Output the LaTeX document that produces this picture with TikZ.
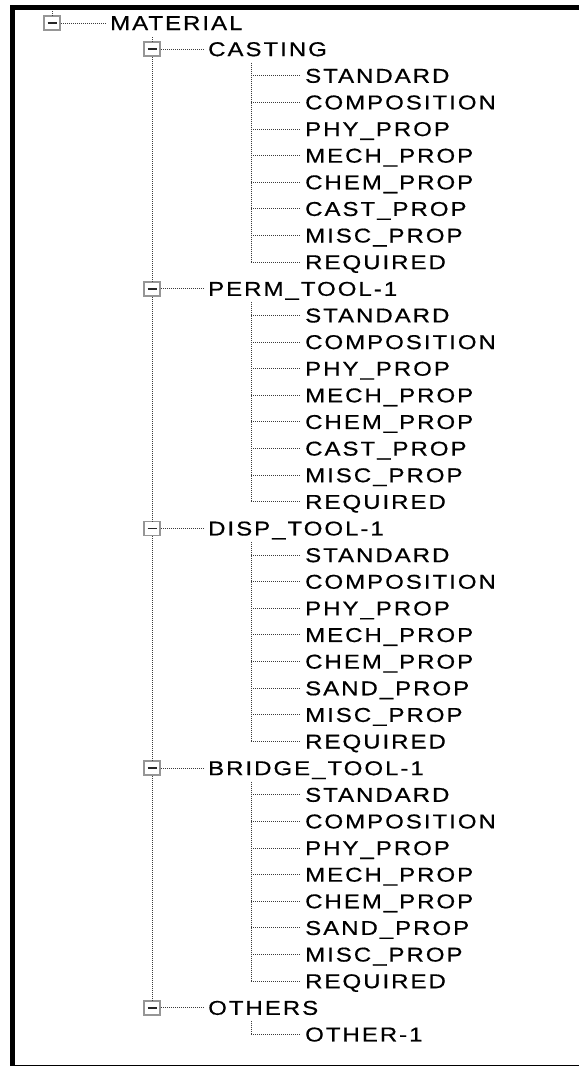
\documentclass[tikz,border=0pt]{standalone}
\usepackage{fontspec}
\newfontfamily\treefont[FakeStretch=1.2,LetterSpace=10,FakeBold=0.6]{Liberation Sans}
\definecolor{dotc}{RGB}{60,60,60}
\definecolor{boxc}{RGB}{150,150,150}
\def\listA{STANDARD,COMPOSITION,PHY\_PROP,MECH\_PROP,CHEM\_PROP,CAST\_PROP,MISC\_PROP,REQUIRED}
\def\listB{STANDARD,COMPOSITION,PHY\_PROP,MECH\_PROP,CHEM\_PROP,SAND\_PROP,MISC\_PROP,REQUIRED}
\def\listC{OTHER-1}
\newcommand\treegroup[5]{%
  \pgfmathsetmacro\gy{22.5+26.63*#2}
  \node[expbox] (g#1) at (152,\gy) {};
  \draw[minus] ([xshift=-4.5pt]g#1.center) -- ([xshift=4.5pt]g#1.center);
  \node[lbl] (t#1) at (208,\gy+7) {#3};
  \draw[dotln] (g#1.east) -- ([xshift=-4pt]g#1.east -| t#1.west);
  \coordinate (v#1) at (251,\gy+13.5);
  \foreach \c [count=\k] in #4 {
    \pgfmathsetmacro\cy{22.5+26.63*(#2+\k)}
    \coordinate (h#1-\k) at (251,\cy);
    \node[lbl] (c#1-\k) at (305,\cy+7) {\c};
    \draw[dotln] (h#1-\k) -- ([xshift=-5pt]h#1-\k -| c#1-\k.west);
  }
  \draw[dotln] (v#1) -- (h#1-#5);
}
\begin{document}
\begin{tikzpicture}[x=1pt,y=-1pt,
  lbl/.style={anchor=base west,inner sep=0pt,font=\treefont\fontsize{20}{24}\selectfont},
  expbox/.style={draw=boxc,line width=1.6pt,fill=white,minimum width=16pt,minimum height=14pt,inner sep=0pt},
  dotln/.style={draw=dotc,line width=1pt,dash pattern=on 1pt off 1pt},
  minus/.style={draw=black!85,line width=1.6pt},
  frame/.style={fill=black}]
\useasboundingbox (0,0) rectangle (579,1066);
\fill[frame] (10,5) rectangle (579,10);
\fill[frame] (10,5) rectangle (15,1066);
\fill[frame] (10,1064.5) rectangle (579,1066);
% root
\node[expbox] (rb) at (52,23) {};
\draw[minus] ([xshift=-4.5pt]rb.center) -- ([xshift=4.5pt]rb.center);
\node[lbl] (rt) at (110,30) {MATERIAL};
\coordinate (rs) at (52,11);
\draw[dotln] (rs) -- (rb.north);
\draw[dotln] (rb.east) -- ([xshift=-4pt]rb.east -| rt.west);
% groups
\treegroup{1}{1}{CASTING}{\listA}{8}
\treegroup{2}{10}{PERM\_TOOL-1}{\listA}{8}
\treegroup{3}{19}{DISP\_TOOL-1}{\listB}{8}
\treegroup{4}{28}{BRIDGE\_TOOL-1}{\listB}{8}
\treegroup{5}{37}{OTHERS}{\listC}{1}
\coordinate (l1top) at (152,37);
\draw[dotln] (l1top) -- (g1.north);
\draw[dotln] (g1.south) -- (g2.north);
\draw[dotln] (g2.south) -- (g3.north);
\draw[dotln] (g3.south) -- (g4.north);
\draw[dotln] (g4.south) -- (g5.north);
\end{tikzpicture}
\end{document}
